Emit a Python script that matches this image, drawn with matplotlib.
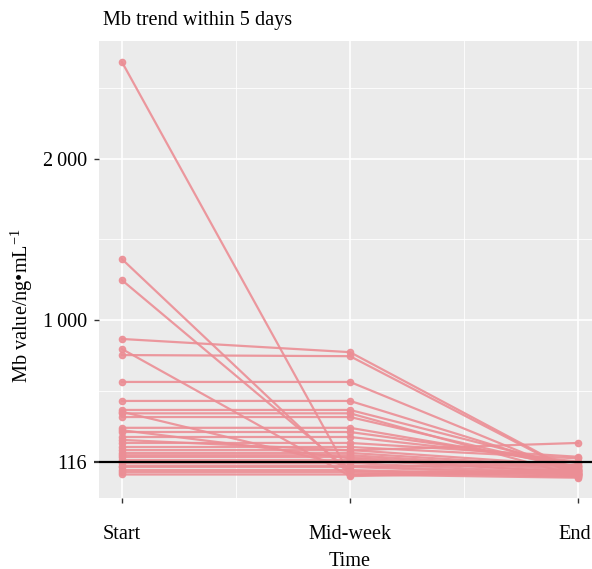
import numpy as np
import matplotlib
matplotlib.use("Agg")
import matplotlib.pyplot as plt
import matplotlib.transforms as mtransforms

categories = ["Start", "Mid-week", "End"]
start_vals = [2604, 1379, 1248, 882, 820, 782, 615, 497, 441, 430, 420, 397, 330, 315, 304,
              273, 255, 236, 211, 192, 174, 160, 149, 130, 112, 95, 87, 68, 55, 40]
mid_vals = [38, 40, 60, 800, 30, 775, 615, 497, 441, 90, 420, 397, 330, 140, 304,
            273, 190, 236, 211, 192, 174, 160, 149, 130, 112, 95, 87, 68, 55, 40]
end_vals = [60, 70, 50, 45, 55, 40, 35, 60, 80, 100, 30, 70, 90, 50, 110,
            120, 236, 150, 140, 95, 85, 75, 65, 55, 45, 40, 35, 30, 25, 20]
ref_value = 116
y_ticks = [116, 1000, 2000]
y_ticklabels = ["116", "1\u2009000", "2\u2009000"]
y_minor = [558, 1500, 2442]

plt.rcParams['font.family'] = ['Liberation Serif', 'DejaVu Serif']
plt.rcParams['mathtext.fontset'] = 'custom'
plt.rcParams['mathtext.rm'] = 'Liberation Serif'
plt.rcParams['mathtext.it'] = 'Liberation Serif:italic'

FS = 14.6
fig = plt.figure(figsize=(5.92, 5.69), dpi=100)
ax = fig.add_axes([99/592, (569-498)/569, 502/592, 457/569])
ax.set_facecolor('#EBEBEB')
for s in ax.spines.values():
    s.set_visible(False)

x = np.arange(1, len(categories) + 1)
line_color = '#EB8E95'
for s, m, e in zip(start_vals, mid_vals, end_vals):
    ax.plot(x, [s, m, e], color=line_color, lw=1.6, marker='o', ms=4.5,
            alpha=0.9, solid_capstyle='round', zorder=3)

ax.axhline(ref_value, color='black', lw=1.6, zorder=4)

ax.set_xlim(0.9, 3.1)
ax.set_ylim(-106, 2733)
ax.set_xticks(x)
ax.set_xticklabels(categories)
ax.set_xticks([1.5, 2.5], minor=True)
ax.set_yticks(y_ticks)
ax.set_yticklabels(y_ticklabels)
ax.set_yticks(y_minor, minor=True)

ax.grid(which='major', color='white', lw=1.2, zorder=0)
ax.grid(which='minor', color='white', lw=0.6, zorder=0)
ax.set_axisbelow(True)

ax.tick_params(which='major', length=3.5, width=1.0, color='#333333',
               labelsize=FS, labelcolor='black')
ax.tick_params(axis='y', pad=5)
ax.tick_params(which='minor', length=0)
ax.tick_params(axis='x', pad=16)
for t in ax.yaxis.get_major_ticks():
    if t.get_loc() == ref_value:
        t.tick1line.set_color('black')
        t.tick1line.set_markeredgewidth(1.6)

# nudge the last x label slightly left so it stays inside the canvas
last = ax.get_xticklabels()[-1]
last.set_transform(last.get_transform() +
                   mtransforms.ScaledTranslation(-3/100, 0, fig.dpi_scale_trans))

fig.text(350/592, 1 - 561/569, "Time", ha='center', va='center', fontsize=FS)
fig.text(22/592, 1 - 306/569, "Mb value/ng\u2022mL$^{-1}$", rotation=90,
         ha='center', va='center', fontsize=FS)
fig.text(103/592, 1 - 20/569, "Mb trend within 5 days", ha='left', va='center',
         fontsize=FS)

fig.savefig("out.png", dpi=100)
